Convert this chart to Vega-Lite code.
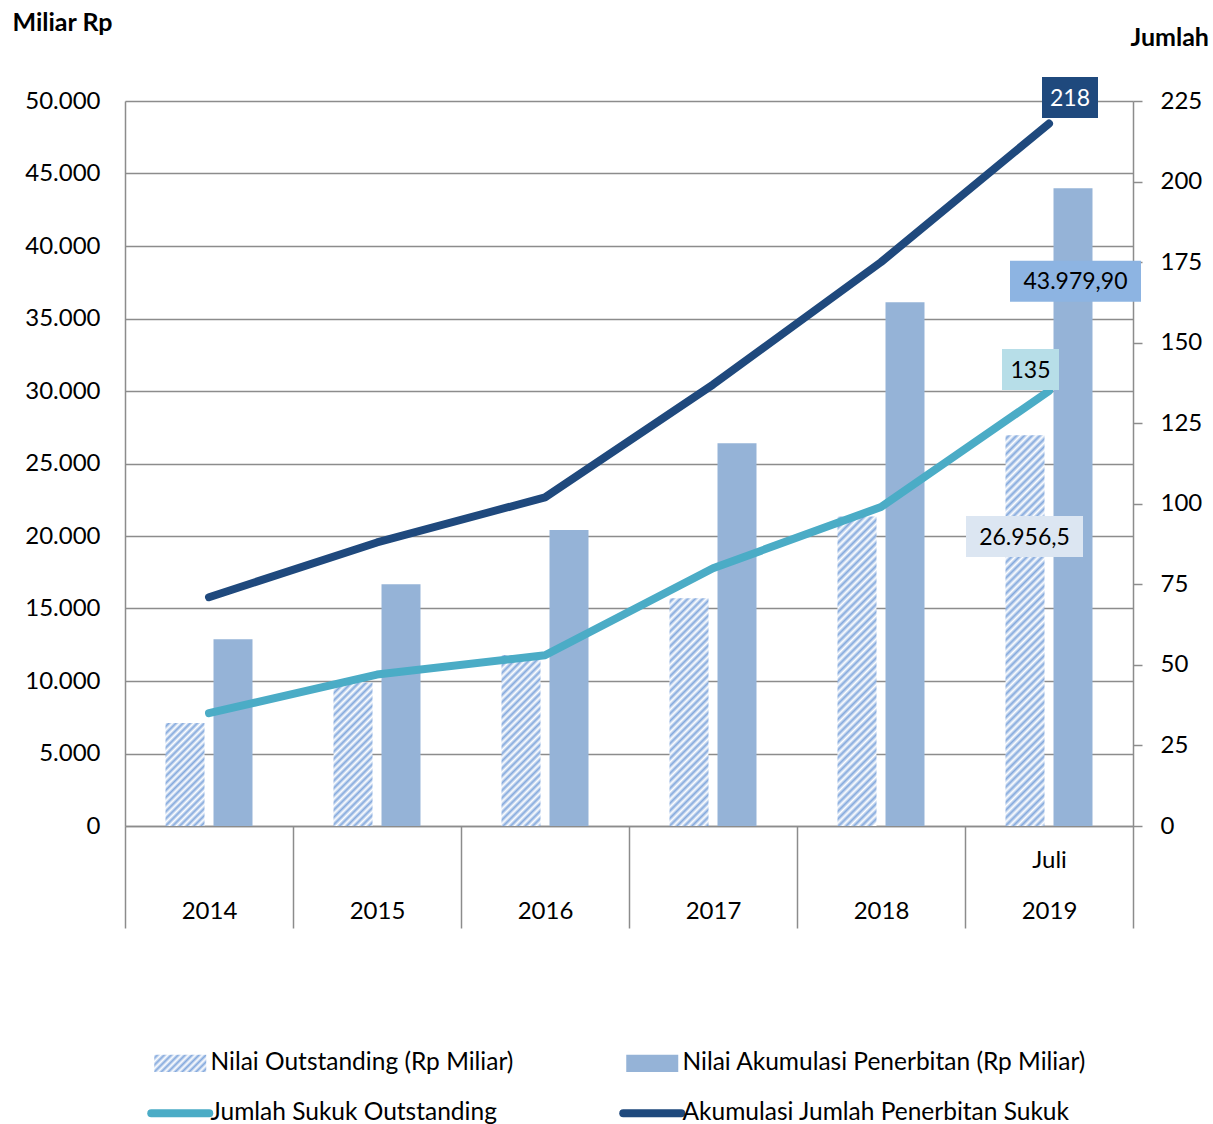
{
"$schema": "https://vega.github.io/schema/vega-lite/v6.json",
"width": 1008, "height": 725,
"autosize": "none",
"padding": {"left": 125, "top": 101, "right": 80, "bottom": 298},
"background": "white",
"config": {"font": "Lato", "view": {"stroke": null}, "locale": {"number": {"decimal": ",", "thousands": ".", "grouping": [3], "currency": ["Rp", ""]}}},
"data": {"values": [
{"year": "2014", "series": "Nilai Outstanding (Rp Miliar)", "value": 7100},
{"year": "2015", "series": "Nilai Outstanding (Rp Miliar)", "value": 9900},
{"year": "2016", "series": "Nilai Outstanding (Rp Miliar)", "value": 11800},
{"year": "2017", "series": "Nilai Outstanding (Rp Miliar)", "value": 15700},
{"year": "2018", "series": "Nilai Outstanding (Rp Miliar)", "value": 21350},
{"year": "2019", "series": "Nilai Outstanding (Rp Miliar)", "value": 26956.5},
{"year": "2014", "series": "Nilai Akumulasi Penerbitan (Rp Miliar)", "value": 12880},
{"year": "2015", "series": "Nilai Akumulasi Penerbitan (Rp Miliar)", "value": 16670},
{"year": "2016", "series": "Nilai Akumulasi Penerbitan (Rp Miliar)", "value": 20410},
{"year": "2017", "series": "Nilai Akumulasi Penerbitan (Rp Miliar)", "value": 26390},
{"year": "2018", "series": "Nilai Akumulasi Penerbitan (Rp Miliar)", "value": 36120},
{"year": "2019", "series": "Nilai Akumulasi Penerbitan (Rp Miliar)", "value": 43979.9},
{"year": "2014", "series": "Jumlah Sukuk Outstanding", "value": 35},
{"year": "2015", "series": "Jumlah Sukuk Outstanding", "value": 47},
{"year": "2016", "series": "Jumlah Sukuk Outstanding", "value": 53},
{"year": "2017", "series": "Jumlah Sukuk Outstanding", "value": 80},
{"year": "2018", "series": "Jumlah Sukuk Outstanding", "value": 99},
{"year": "2019", "series": "Jumlah Sukuk Outstanding", "value": 135},
{"year": "2014", "series": "Akumulasi Jumlah Penerbitan Sukuk", "value": 71},
{"year": "2015", "series": "Akumulasi Jumlah Penerbitan Sukuk", "value": 88},
{"year": "2016", "series": "Akumulasi Jumlah Penerbitan Sukuk", "value": 102},
{"year": "2017", "series": "Akumulasi Jumlah Penerbitan Sukuk", "value": 137},
{"year": "2018", "series": "Akumulasi Jumlah Penerbitan Sukuk", "value": 175},
{"year": "2019", "series": "Akumulasi Jumlah Penerbitan Sukuk", "value": 218}
]},
"encoding": {
"x": {"field": "year", "type": "ordinal", "scale": {"paddingInner": 0, "paddingOuter": 0},
"axis": {"title": null, "labelExpr": "datum.value == '2019' ? ['Juli', '2019'] : ['', datum.value]", "labelAngle": 0, "labelFontSize": 24, "labelColor": "#000", "labelBaseline": "middle", "labelLineHeight": 51, "labelPadding": -67.5, "tickBand": "extent", "tickSize": 102, "tickColor": "#8c8c8c", "tickWidth": 1.5, "domainColor": "#8c8c8c", "domainWidth": 1.5, "grid": false}}
},
"layer": [
{"layer": [
{"transform": [{"filter": "datum.series=='Nilai Outstanding (Rp Miliar)' && datum.year=='2014'"}],
"mark": {"type": "bar", "width": 39, "xOffset": -24, "fill": {"gradient": "linear", "x1": 0, "y1": 0, "x2": 0.45678, "y2": 1.20578, "stops": [
{"offset":0,"color":"#fff"},{"offset":0.025,"color":"#84a9dd"},{"offset":0.05,"color":"#fff"},{"offset":0.075,"color":"#84a9dd"},{"offset":0.1,"color":"#fff"},{"offset":0.125,"color":"#84a9dd"},{"offset":0.15,"color":"#fff"},{"offset":0.175,"color":"#84a9dd"},{"offset":0.2,"color":"#fff"},{"offset":0.225,"color":"#84a9dd"},{"offset":0.25,"color":"#fff"},{"offset":0.275,"color":"#84a9dd"},{"offset":0.3,"color":"#fff"},{"offset":0.325,"color":"#84a9dd"},{"offset":0.35,"color":"#fff"},{"offset":0.375,"color":"#84a9dd"},{"offset":0.4,"color":"#fff"},{"offset":0.425,"color":"#84a9dd"},{"offset":0.45,"color":"#fff"},{"offset":0.475,"color":"#84a9dd"},{"offset":0.5,"color":"#fff"},{"offset":0.525,"color":"#84a9dd"},{"offset":0.55,"color":"#fff"},{"offset":0.575,"color":"#84a9dd"},{"offset":0.6,"color":"#fff"},{"offset":0.625,"color":"#84a9dd"},{"offset":0.65,"color":"#fff"},{"offset":0.675,"color":"#84a9dd"},{"offset":0.7,"color":"#fff"},{"offset":0.725,"color":"#84a9dd"},{"offset":0.75,"color":"#fff"},{"offset":0.775,"color":"#84a9dd"},{"offset":0.8,"color":"#fff"},{"offset":0.825,"color":"#84a9dd"},{"offset":0.85,"color":"#fff"},{"offset":0.875,"color":"#84a9dd"},{"offset":0.9,"color":"#fff"},{"offset":0.925,"color":"#84a9dd"},{"offset":0.95,"color":"#fff"},{"offset":0.975,"color":"#84a9dd"},{"offset":1,"color":"#fff"}]}},
"encoding": {"y": {"field": "value", "type": "quantitative", "scale": {"domain": [0, 50000], "nice": false},
"axis": {"title": "Miliar Rp", "titleAngle": 0, "titleAlign": "left", "titleBaseline": "middle", "titleX": -113, "titleY": -79, "titleFontSize": 25, "titleFontWeight": "bold", "titleColor": "#000", "values": [0, 5000, 10000, 15000, 20000, 25000, 30000, 35000, 40000, 45000, 50000], "format": ",.0f", "labelFontSize": 24, "labelColor": "#000", "labelPadding": 25, "ticks": false, "tickSize": 0, "domainColor": "#8c8c8c", "domainWidth": 1.5, "grid": true, "gridColor": "#8c8c8c", "gridWidth": 1.5}}}},
{"transform": [{"filter": "datum.series=='Nilai Outstanding (Rp Miliar)' && datum.year=='2015'"}],
"mark": {"type": "bar", "width": 39, "xOffset": -24, "fill": {"gradient": "linear", "x1": 0, "y1": 0, "x2": 0.32174, "y2": 1.18425, "stops": [
{"offset":0,"color":"#fff"},{"offset":0.02,"color":"#84a9dd"},{"offset":0.04,"color":"#fff"},{"offset":0.06,"color":"#84a9dd"},{"offset":0.08,"color":"#fff"},{"offset":0.1,"color":"#84a9dd"},{"offset":0.12,"color":"#fff"},{"offset":0.14,"color":"#84a9dd"},{"offset":0.16,"color":"#fff"},{"offset":0.18,"color":"#84a9dd"},{"offset":0.2,"color":"#fff"},{"offset":0.22,"color":"#84a9dd"},{"offset":0.24,"color":"#fff"},{"offset":0.26,"color":"#84a9dd"},{"offset":0.28,"color":"#fff"},{"offset":0.3,"color":"#84a9dd"},{"offset":0.32,"color":"#fff"},{"offset":0.34,"color":"#84a9dd"},{"offset":0.36,"color":"#fff"},{"offset":0.38,"color":"#84a9dd"},{"offset":0.4,"color":"#fff"},{"offset":0.42,"color":"#84a9dd"},{"offset":0.44,"color":"#fff"},{"offset":0.46,"color":"#84a9dd"},{"offset":0.48,"color":"#fff"},{"offset":0.5,"color":"#84a9dd"},{"offset":0.52,"color":"#fff"},{"offset":0.54,"color":"#84a9dd"},{"offset":0.56,"color":"#fff"},{"offset":0.58,"color":"#84a9dd"},{"offset":0.6,"color":"#fff"},{"offset":0.62,"color":"#84a9dd"},{"offset":0.64,"color":"#fff"},{"offset":0.66,"color":"#84a9dd"},{"offset":0.68,"color":"#fff"},{"offset":0.7,"color":"#84a9dd"},{"offset":0.72,"color":"#fff"},{"offset":0.74,"color":"#84a9dd"},{"offset":0.76,"color":"#fff"},{"offset":0.78,"color":"#84a9dd"},{"offset":0.8,"color":"#fff"},{"offset":0.82,"color":"#84a9dd"},{"offset":0.84,"color":"#fff"},{"offset":0.86,"color":"#84a9dd"},{"offset":0.88,"color":"#fff"},{"offset":0.9,"color":"#84a9dd"},{"offset":0.92,"color":"#fff"},{"offset":0.94,"color":"#84a9dd"},{"offset":0.96,"color":"#fff"},{"offset":0.98,"color":"#84a9dd"},{"offset":1,"color":"#fff"}]}},
"encoding": {"y": {"field": "value", "type": "quantitative", "scale": {"domain": [0, 50000], "nice": false}}}},
{"transform": [{"filter": "datum.series=='Nilai Outstanding (Rp Miliar)' && datum.year=='2016'"}],
"mark": {"type": "bar", "width": 39, "xOffset": -24, "fill": {"gradient": "linear", "x1": 0, "y1": 0, "x2": 0.26607, "y2": 1.1673, "stops": [
{"offset":0,"color":"#fff"},{"offset":0.0175,"color":"#84a9dd"},{"offset":0.035,"color":"#fff"},{"offset":0.0525,"color":"#84a9dd"},{"offset":0.07,"color":"#fff"},{"offset":0.0875,"color":"#84a9dd"},{"offset":0.105,"color":"#fff"},{"offset":0.1225,"color":"#84a9dd"},{"offset":0.14,"color":"#fff"},{"offset":0.1575,"color":"#84a9dd"},{"offset":0.175,"color":"#fff"},{"offset":0.1925,"color":"#84a9dd"},{"offset":0.21,"color":"#fff"},{"offset":0.2275,"color":"#84a9dd"},{"offset":0.245,"color":"#fff"},{"offset":0.2625,"color":"#84a9dd"},{"offset":0.28,"color":"#fff"},{"offset":0.2975,"color":"#84a9dd"},{"offset":0.315,"color":"#fff"},{"offset":0.3325,"color":"#84a9dd"},{"offset":0.35,"color":"#fff"},{"offset":0.3675,"color":"#84a9dd"},{"offset":0.385,"color":"#fff"},{"offset":0.4025,"color":"#84a9dd"},{"offset":0.42,"color":"#fff"},{"offset":0.4375,"color":"#84a9dd"},{"offset":0.455,"color":"#fff"},{"offset":0.4725,"color":"#84a9dd"},{"offset":0.49,"color":"#fff"},{"offset":0.5075,"color":"#84a9dd"},{"offset":0.525,"color":"#fff"},{"offset":0.5425,"color":"#84a9dd"},{"offset":0.56,"color":"#fff"},{"offset":0.5775,"color":"#84a9dd"},{"offset":0.595,"color":"#fff"},{"offset":0.6125,"color":"#84a9dd"},{"offset":0.63,"color":"#fff"},{"offset":0.6475,"color":"#84a9dd"},{"offset":0.665,"color":"#fff"},{"offset":0.6825,"color":"#84a9dd"},{"offset":0.7,"color":"#fff"},{"offset":0.7175,"color":"#84a9dd"},{"offset":0.735,"color":"#fff"},{"offset":0.7525,"color":"#84a9dd"},{"offset":0.77,"color":"#fff"},{"offset":0.7875,"color":"#84a9dd"},{"offset":0.805,"color":"#fff"},{"offset":0.8225,"color":"#84a9dd"},{"offset":0.84,"color":"#fff"},{"offset":0.8575,"color":"#84a9dd"},{"offset":0.875,"color":"#fff"},{"offset":0.8925,"color":"#84a9dd"},{"offset":0.91,"color":"#fff"},{"offset":0.9275,"color":"#84a9dd"},{"offset":0.945,"color":"#fff"},{"offset":0.9625,"color":"#84a9dd"},{"offset":0.98,"color":"#fff"},{"offset":0.9975,"color":"#84a9dd"}]}},
"encoding": {"y": {"field": "value", "type": "quantitative", "scale": {"domain": [0, 50000], "nice": false}}}},
{"transform": [{"filter": "datum.series=='Nilai Outstanding (Rp Miliar)' && datum.year=='2017'"}],
"mark": {"type": "bar", "width": 39, "xOffset": -24, "fill": {"gradient": "linear", "x1": 0, "y1": 0, "x2": 0.19494, "y2": 1.1379, "stops": [
{"offset":0,"color":"#fff"},{"offset":0.014,"color":"#84a9dd"},{"offset":0.028,"color":"#fff"},{"offset":0.042,"color":"#84a9dd"},{"offset":0.056,"color":"#fff"},{"offset":0.07,"color":"#84a9dd"},{"offset":0.084,"color":"#fff"},{"offset":0.098,"color":"#84a9dd"},{"offset":0.112,"color":"#fff"},{"offset":0.126,"color":"#84a9dd"},{"offset":0.14,"color":"#fff"},{"offset":0.154,"color":"#84a9dd"},{"offset":0.168,"color":"#fff"},{"offset":0.182,"color":"#84a9dd"},{"offset":0.196,"color":"#fff"},{"offset":0.21,"color":"#84a9dd"},{"offset":0.224,"color":"#fff"},{"offset":0.238,"color":"#84a9dd"},{"offset":0.252,"color":"#fff"},{"offset":0.266,"color":"#84a9dd"},{"offset":0.28,"color":"#fff"},{"offset":0.294,"color":"#84a9dd"},{"offset":0.308,"color":"#fff"},{"offset":0.322,"color":"#84a9dd"},{"offset":0.336,"color":"#fff"},{"offset":0.35,"color":"#84a9dd"},{"offset":0.364,"color":"#fff"},{"offset":0.378,"color":"#84a9dd"},{"offset":0.392,"color":"#fff"},{"offset":0.406,"color":"#84a9dd"},{"offset":0.42,"color":"#fff"},{"offset":0.434,"color":"#84a9dd"},{"offset":0.448,"color":"#fff"},{"offset":0.462,"color":"#84a9dd"},{"offset":0.476,"color":"#fff"},{"offset":0.49,"color":"#84a9dd"},{"offset":0.504,"color":"#fff"},{"offset":0.518,"color":"#84a9dd"},{"offset":0.532,"color":"#fff"},{"offset":0.546,"color":"#84a9dd"},{"offset":0.56,"color":"#fff"},{"offset":0.574,"color":"#84a9dd"},{"offset":0.588,"color":"#fff"},{"offset":0.602,"color":"#84a9dd"},{"offset":0.616,"color":"#fff"},{"offset":0.63,"color":"#84a9dd"},{"offset":0.644,"color":"#fff"},{"offset":0.658,"color":"#84a9dd"},{"offset":0.672,"color":"#fff"},{"offset":0.686,"color":"#84a9dd"},{"offset":0.7,"color":"#fff"},{"offset":0.714,"color":"#84a9dd"},{"offset":0.728,"color":"#fff"},{"offset":0.742,"color":"#84a9dd"},{"offset":0.756,"color":"#fff"},{"offset":0.77,"color":"#84a9dd"},{"offset":0.784,"color":"#fff"},{"offset":0.798,"color":"#84a9dd"},{"offset":0.812,"color":"#fff"},{"offset":0.826,"color":"#84a9dd"},{"offset":0.84,"color":"#fff"},{"offset":0.854,"color":"#84a9dd"},{"offset":0.868,"color":"#fff"},{"offset":0.882,"color":"#84a9dd"},{"offset":0.896,"color":"#fff"},{"offset":0.91,"color":"#84a9dd"},{"offset":0.924,"color":"#fff"},{"offset":0.938,"color":"#84a9dd"},{"offset":0.952,"color":"#fff"},{"offset":0.966,"color":"#84a9dd"},{"offset":0.98,"color":"#fff"},{"offset":0.994,"color":"#84a9dd"}]}},
"encoding": {"y": {"field": "value", "type": "quantitative", "scale": {"domain": [0, 50000], "nice": false}}}},
{"transform": [{"filter": "datum.series=='Nilai Outstanding (Rp Miliar)' && datum.year=='2018'"}],
"mark": {"type": "bar", "width": 39, "xOffset": -24, "fill": {"gradient": "linear", "x1": 0, "y1": 0, "x2": 0.13962, "y2": 1.10838, "stops": [
{"offset":0,"color":"#fff"},{"offset":0.011,"color":"#84a9dd"},{"offset":0.022,"color":"#fff"},{"offset":0.033,"color":"#84a9dd"},{"offset":0.044,"color":"#fff"},{"offset":0.055,"color":"#84a9dd"},{"offset":0.066,"color":"#fff"},{"offset":0.077,"color":"#84a9dd"},{"offset":0.088,"color":"#fff"},{"offset":0.099,"color":"#84a9dd"},{"offset":0.11,"color":"#fff"},{"offset":0.121,"color":"#84a9dd"},{"offset":0.132,"color":"#fff"},{"offset":0.143,"color":"#84a9dd"},{"offset":0.154,"color":"#fff"},{"offset":0.165,"color":"#84a9dd"},{"offset":0.176,"color":"#fff"},{"offset":0.187,"color":"#84a9dd"},{"offset":0.198,"color":"#fff"},{"offset":0.209,"color":"#84a9dd"},{"offset":0.22,"color":"#fff"},{"offset":0.231,"color":"#84a9dd"},{"offset":0.242,"color":"#fff"},{"offset":0.253,"color":"#84a9dd"},{"offset":0.264,"color":"#fff"},{"offset":0.275,"color":"#84a9dd"},{"offset":0.286,"color":"#fff"},{"offset":0.297,"color":"#84a9dd"},{"offset":0.308,"color":"#fff"},{"offset":0.319,"color":"#84a9dd"},{"offset":0.33,"color":"#fff"},{"offset":0.341,"color":"#84a9dd"},{"offset":0.352,"color":"#fff"},{"offset":0.363,"color":"#84a9dd"},{"offset":0.374,"color":"#fff"},{"offset":0.385,"color":"#84a9dd"},{"offset":0.396,"color":"#fff"},{"offset":0.407,"color":"#84a9dd"},{"offset":0.418,"color":"#fff"},{"offset":0.429,"color":"#84a9dd"},{"offset":0.44,"color":"#fff"},{"offset":0.451,"color":"#84a9dd"},{"offset":0.462,"color":"#fff"},{"offset":0.473,"color":"#84a9dd"},{"offset":0.484,"color":"#fff"},{"offset":0.495,"color":"#84a9dd"},{"offset":0.506,"color":"#fff"},{"offset":0.517,"color":"#84a9dd"},{"offset":0.528,"color":"#fff"},{"offset":0.539,"color":"#84a9dd"},{"offset":0.55,"color":"#fff"},{"offset":0.561,"color":"#84a9dd"},{"offset":0.572,"color":"#fff"},{"offset":0.583,"color":"#84a9dd"},{"offset":0.594,"color":"#fff"},{"offset":0.605,"color":"#84a9dd"},{"offset":0.616,"color":"#fff"},{"offset":0.627,"color":"#84a9dd"},{"offset":0.638,"color":"#fff"},{"offset":0.649,"color":"#84a9dd"},{"offset":0.66,"color":"#fff"},{"offset":0.671,"color":"#84a9dd"},{"offset":0.682,"color":"#fff"},{"offset":0.693,"color":"#84a9dd"},{"offset":0.704,"color":"#fff"},{"offset":0.715,"color":"#84a9dd"},{"offset":0.726,"color":"#fff"},{"offset":0.737,"color":"#84a9dd"},{"offset":0.748,"color":"#fff"},{"offset":0.759,"color":"#84a9dd"},{"offset":0.77,"color":"#fff"},{"offset":0.781,"color":"#84a9dd"},{"offset":0.792,"color":"#fff"},{"offset":0.803,"color":"#84a9dd"},{"offset":0.814,"color":"#fff"},{"offset":0.825,"color":"#84a9dd"},{"offset":0.836,"color":"#fff"},{"offset":0.847,"color":"#84a9dd"},{"offset":0.858,"color":"#fff"},{"offset":0.869,"color":"#84a9dd"},{"offset":0.88,"color":"#fff"},{"offset":0.891,"color":"#84a9dd"},{"offset":0.902,"color":"#fff"},{"offset":0.913,"color":"#84a9dd"},{"offset":0.924,"color":"#fff"},{"offset":0.935,"color":"#84a9dd"},{"offset":0.946,"color":"#fff"},{"offset":0.957,"color":"#84a9dd"},{"offset":0.968,"color":"#fff"},{"offset":0.979,"color":"#84a9dd"},{"offset":0.99,"color":"#fff"}]}},
"encoding": {"y": {"field": "value", "type": "quantitative", "scale": {"domain": [0, 50000], "nice": false}}}},
{"transform": [{"filter": "datum.series=='Nilai Outstanding (Rp Miliar)' && datum.year=='2019'"}],
"mark": {"type": "bar", "width": 39, "xOffset": -24, "fill": {"gradient": "linear", "x1": 0, "y1": 0, "x2": 0.10865, "y2": 1.08894, "stops": [
{"offset":0,"color":"#fff"},{"offset":0.009,"color":"#84a9dd"},{"offset":0.018,"color":"#fff"},{"offset":0.027,"color":"#84a9dd"},{"offset":0.036,"color":"#fff"},{"offset":0.045,"color":"#84a9dd"},{"offset":0.054,"color":"#fff"},{"offset":0.063,"color":"#84a9dd"},{"offset":0.072,"color":"#fff"},{"offset":0.081,"color":"#84a9dd"},{"offset":0.09,"color":"#fff"},{"offset":0.099,"color":"#84a9dd"},{"offset":0.108,"color":"#fff"},{"offset":0.117,"color":"#84a9dd"},{"offset":0.126,"color":"#fff"},{"offset":0.135,"color":"#84a9dd"},{"offset":0.144,"color":"#fff"},{"offset":0.153,"color":"#84a9dd"},{"offset":0.162,"color":"#fff"},{"offset":0.171,"color":"#84a9dd"},{"offset":0.18,"color":"#fff"},{"offset":0.189,"color":"#84a9dd"},{"offset":0.198,"color":"#fff"},{"offset":0.207,"color":"#84a9dd"},{"offset":0.216,"color":"#fff"},{"offset":0.225,"color":"#84a9dd"},{"offset":0.234,"color":"#fff"},{"offset":0.243,"color":"#84a9dd"},{"offset":0.252,"color":"#fff"},{"offset":0.261,"color":"#84a9dd"},{"offset":0.27,"color":"#fff"},{"offset":0.279,"color":"#84a9dd"},{"offset":0.288,"color":"#fff"},{"offset":0.297,"color":"#84a9dd"},{"offset":0.306,"color":"#fff"},{"offset":0.315,"color":"#84a9dd"},{"offset":0.324,"color":"#fff"},{"offset":0.333,"color":"#84a9dd"},{"offset":0.342,"color":"#fff"},{"offset":0.351,"color":"#84a9dd"},{"offset":0.36,"color":"#fff"},{"offset":0.369,"color":"#84a9dd"},{"offset":0.378,"color":"#fff"},{"offset":0.387,"color":"#84a9dd"},{"offset":0.396,"color":"#fff"},{"offset":0.405,"color":"#84a9dd"},{"offset":0.414,"color":"#fff"},{"offset":0.423,"color":"#84a9dd"},{"offset":0.432,"color":"#fff"},{"offset":0.441,"color":"#84a9dd"},{"offset":0.45,"color":"#fff"},{"offset":0.459,"color":"#84a9dd"},{"offset":0.468,"color":"#fff"},{"offset":0.477,"color":"#84a9dd"},{"offset":0.486,"color":"#fff"},{"offset":0.495,"color":"#84a9dd"},{"offset":0.504,"color":"#fff"},{"offset":0.513,"color":"#84a9dd"},{"offset":0.522,"color":"#fff"},{"offset":0.531,"color":"#84a9dd"},{"offset":0.54,"color":"#fff"},{"offset":0.549,"color":"#84a9dd"},{"offset":0.558,"color":"#fff"},{"offset":0.567,"color":"#84a9dd"},{"offset":0.576,"color":"#fff"},{"offset":0.585,"color":"#84a9dd"},{"offset":0.594,"color":"#fff"},{"offset":0.603,"color":"#84a9dd"},{"offset":0.612,"color":"#fff"},{"offset":0.621,"color":"#84a9dd"},{"offset":0.63,"color":"#fff"},{"offset":0.639,"color":"#84a9dd"},{"offset":0.648,"color":"#fff"},{"offset":0.657,"color":"#84a9dd"},{"offset":0.666,"color":"#fff"},{"offset":0.675,"color":"#84a9dd"},{"offset":0.684,"color":"#fff"},{"offset":0.693,"color":"#84a9dd"},{"offset":0.702,"color":"#fff"},{"offset":0.711,"color":"#84a9dd"},{"offset":0.72,"color":"#fff"},{"offset":0.729,"color":"#84a9dd"},{"offset":0.738,"color":"#fff"},{"offset":0.747,"color":"#84a9dd"},{"offset":0.756,"color":"#fff"},{"offset":0.765,"color":"#84a9dd"},{"offset":0.774,"color":"#fff"},{"offset":0.783,"color":"#84a9dd"},{"offset":0.792,"color":"#fff"},{"offset":0.801,"color":"#84a9dd"},{"offset":0.81,"color":"#fff"},{"offset":0.819,"color":"#84a9dd"},{"offset":0.828,"color":"#fff"},{"offset":0.837,"color":"#84a9dd"},{"offset":0.846,"color":"#fff"},{"offset":0.855,"color":"#84a9dd"},{"offset":0.864,"color":"#fff"},{"offset":0.873,"color":"#84a9dd"},{"offset":0.882,"color":"#fff"},{"offset":0.891,"color":"#84a9dd"},{"offset":0.9,"color":"#fff"},{"offset":0.909,"color":"#84a9dd"},{"offset":0.918,"color":"#fff"},{"offset":0.927,"color":"#84a9dd"},{"offset":0.936,"color":"#fff"},{"offset":0.945,"color":"#84a9dd"},{"offset":0.954,"color":"#fff"},{"offset":0.963,"color":"#84a9dd"},{"offset":0.972,"color":"#fff"},{"offset":0.981,"color":"#84a9dd"},{"offset":0.99,"color":"#fff"},{"offset":0.999,"color":"#84a9dd"}]}},
"encoding": {"y": {"field": "value", "type": "quantitative", "scale": {"domain": [0, 50000], "nice": false}}}},
{"transform": [{"filter": "datum.series=='Nilai Akumulasi Penerbitan (Rp Miliar)'"}],
"mark": {"type": "bar", "width": 39, "xOffset": 24},
"encoding": {
"y": {"field": "value", "type": "quantitative", "scale": {"domain": [0, 50000], "nice": false}},
"color": {"field": "series", "type": "nominal",
"scale": {"domain": ["Nilai Outstanding (Rp Miliar)", "Nilai Akumulasi Penerbitan (Rp Miliar)", "Jumlah Sukuk Outstanding", "Akumulasi Jumlah Penerbitan Sukuk"], "range": [{"expr": "{gradient:'linear',x1:0,y1:0,x2:1.2002,y2:0.4016,stops:[{offset:0,color:'#fff'},{offset:0.05,color:'#84a9dd'},{offset:0.1,color:'#fff'},{offset:0.15,color:'#84a9dd'},{offset:0.2,color:'#fff'},{offset:0.25,color:'#84a9dd'},{offset:0.3,color:'#fff'},{offset:0.35,color:'#84a9dd'},{offset:0.4,color:'#fff'},{offset:0.45,color:'#84a9dd'},{offset:0.5,color:'#fff'},{offset:0.55,color:'#84a9dd'},{offset:0.6,color:'#fff'},{offset:0.65,color:'#84a9dd'},{offset:0.7,color:'#fff'},{offset:0.75,color:'#84a9dd'},{offset:0.8,color:'#fff'},{offset:0.85,color:'#84a9dd'},{offset:0.9,color:'#fff'},{offset:0.95,color:'#84a9dd'},{offset:1,color:'#fff'}]}"}, "#95B3D7", "#4BACC6", "#1F497D"]},
"legend": {"title": null, "orient": "none", "legendX": 43, "legendY": 950, "direction": "horizontal", "columns": 2, "columnPadding": 93, "rowPadding": 22, "labelFontSize": 24.5, "labelColor": "#000", "labelLimit": 600, "labelOffset": 18, "symbolSize": 400, "symbolStrokeWidth": 0,
"encode": {"symbols": {"update": {
"shape": {"signal": "indexof(['Jumlah Sukuk Outstanding','Akumulasi Jumlah Penerbitan Sukuk'], datum.value) >= 0 ? 'M-2.9,0H2.9' : 'M-2.6,-0.87H2.6V0.87H-2.6Z'"},
"stroke": {"signal": "datum.value=='Jumlah Sukuk Outstanding' ? '#4BACC6' : datum.value=='Akumulasi Jumlah Penerbitan Sukuk' ? '#1F497D' : 'transparent'"},
"strokeWidth": {"signal": "indexof(['Jumlah Sukuk Outstanding','Akumulasi Jumlah Penerbitan Sukuk'], datum.value) >= 0 ? 8 : 0"},
"strokeCap": {"value": "round"},
"opacity": {"value": 1}, "fillOpacity": {"value": 1}, "strokeOpacity": {"value": 1}
}}}}}}},
{"transform": [{"filter": "datum.series=='Nilai Akumulasi Penerbitan (Rp Miliar)' && datum.year=='2019'"}],
"mark": {"type": "point", "shape": "M-65.5,-20.5H65.5V20.5H-65.5Z", "size": 4, "filled": true, "fill": "#8DB4E2", "opacity": 1, "strokeWidth": 0, "xOffset": 26.5, "yOffset": 93},
"encoding": {"y": {"field": "value", "type": "quantitative", "scale": {"domain": [0, 50000], "nice": false}}}},
{"transform": [{"filter": "datum.series=='Nilai Akumulasi Penerbitan (Rp Miliar)' && datum.year=='2019'"}],
"mark": {"type": "text", "fontSize": 23, "fill": "#000", "align": "center", "baseline": "middle", "xOffset": 26.5, "yOffset": 94},
"encoding": {"y": {"field": "value", "type": "quantitative", "scale": {"domain": [0, 50000], "nice": false}}, "text": {"field": "value", "type": "quantitative", "format": ",.2f"}}},
{"transform": [{"filter": "datum.series=='Nilai Outstanding (Rp Miliar)' && datum.year=='2019'"}],
"mark": {"type": "point", "shape": "M-58.5,-20.5H58.5V20.5H-58.5Z", "size": 4, "filled": true, "fill": "#DCE6F2", "opacity": 1, "strokeWidth": 0, "xOffset": -24.5, "yOffset": 101.4},
"encoding": {"y": {"field": "value", "type": "quantitative", "scale": {"domain": [0, 50000], "nice": false}}}},
{"transform": [{"filter": "datum.series=='Nilai Outstanding (Rp Miliar)' && datum.year=='2019'"}],
"mark": {"type": "text", "fontSize": 23, "fill": "#000", "align": "center", "baseline": "middle", "xOffset": -24.5, "yOffset": 102.4},
"encoding": {"y": {"field": "value", "type": "quantitative", "scale": {"domain": [0, 50000], "nice": false}}, "text": {"field": "value", "type": "quantitative", "format": ",.1f"}}}
]},
{"layer": [
{"transform": [{"filter": "datum.series=='Jumlah Sukuk Outstanding' || datum.series=='Akumulasi Jumlah Penerbitan Sukuk'"}],
"mark": {"type": "line", "strokeWidth": 8, "strokeCap": "round", "strokeJoin": "round"},
"encoding": {
"y": {"field": "value", "type": "quantitative", "scale": {"domain": [0, 225], "nice": false},
"axis": {"orient": "right", "title": "Jumlah", "titleAngle": 0, "titleAlign": "left", "titleBaseline": "middle", "titleX": -3, "titleY": -64, "titleFontSize": 25, "titleFontWeight": "bold", "titleColor": "#000", "values": [0, 25, 50, 75, 100, 125, 150, 175, 200, 225], "labelFontSize": 24, "labelColor": "#000", "labelPadding": 18, "ticks": true, "tickSize": 9, "tickColor": "#8c8c8c", "tickWidth": 1.5, "domainColor": "#8c8c8c", "domainWidth": 1.5, "grid": false}},
"color": {"field": "series", "type": "nominal",
"scale": {"domain": ["Nilai Outstanding (Rp Miliar)", "Nilai Akumulasi Penerbitan (Rp Miliar)", "Jumlah Sukuk Outstanding", "Akumulasi Jumlah Penerbitan Sukuk"], "range": [{"expr": "{gradient:'linear',x1:0,y1:0,x2:1.2002,y2:0.4016,stops:[{offset:0,color:'#fff'},{offset:0.05,color:'#84a9dd'},{offset:0.1,color:'#fff'},{offset:0.15,color:'#84a9dd'},{offset:0.2,color:'#fff'},{offset:0.25,color:'#84a9dd'},{offset:0.3,color:'#fff'},{offset:0.35,color:'#84a9dd'},{offset:0.4,color:'#fff'},{offset:0.45,color:'#84a9dd'},{offset:0.5,color:'#fff'},{offset:0.55,color:'#84a9dd'},{offset:0.6,color:'#fff'},{offset:0.65,color:'#84a9dd'},{offset:0.7,color:'#fff'},{offset:0.75,color:'#84a9dd'},{offset:0.8,color:'#fff'},{offset:0.85,color:'#84a9dd'},{offset:0.9,color:'#fff'},{offset:0.95,color:'#84a9dd'},{offset:1,color:'#fff'}]}"}, "#95B3D7", "#4BACC6", "#1F497D"]}, "legend": null}}},
{"transform": [{"filter": "datum.series=='Akumulasi Jumlah Penerbitan Sukuk' && datum.year=='2019'"}],
"mark": {"type": "point", "shape": "M-28,-20.5H28V20.5H-28Z", "size": 4, "filled": true, "fill": "#1F497D", "opacity": 1, "strokeWidth": 0, "xOffset": 21, "yOffset": -26},
"encoding": {"y": {"field": "value", "type": "quantitative", "scale": {"domain": [0, 225], "nice": false}}}},
{"transform": [{"filter": "datum.series=='Akumulasi Jumlah Penerbitan Sukuk' && datum.year=='2019'"}],
"mark": {"type": "text", "fontSize": 23, "fill": "#fff", "align": "center", "baseline": "middle", "xOffset": 21, "yOffset": -25},
"encoding": {"y": {"field": "value", "type": "quantitative", "scale": {"domain": [0, 225], "nice": false}}, "text": {"field": "value", "type": "quantitative"}}},
{"transform": [{"filter": "datum.series=='Jumlah Sukuk Outstanding' && datum.year=='2019'"}],
"mark": {"type": "point", "shape": "M-28.5,-20.5H28.5V20.5H-28.5Z", "size": 4, "filled": true, "fill": "#B7DEE8", "opacity": 1, "strokeWidth": 0, "xOffset": -18.5, "yOffset": -21.5},
"encoding": {"y": {"field": "value", "type": "quantitative", "scale": {"domain": [0, 225], "nice": false}}}},
{"transform": [{"filter": "datum.series=='Jumlah Sukuk Outstanding' && datum.year=='2019'"}],
"mark": {"type": "text", "fontSize": 23, "fill": "#000", "align": "center", "baseline": "middle", "xOffset": -18.5, "yOffset": -20.5},
"encoding": {"y": {"field": "value", "type": "quantitative", "scale": {"domain": [0, 225], "nice": false}}, "text": {"field": "value", "type": "quantitative"}}}
]}
],
"resolve": {"scale": {"y": "independent"}}
}
